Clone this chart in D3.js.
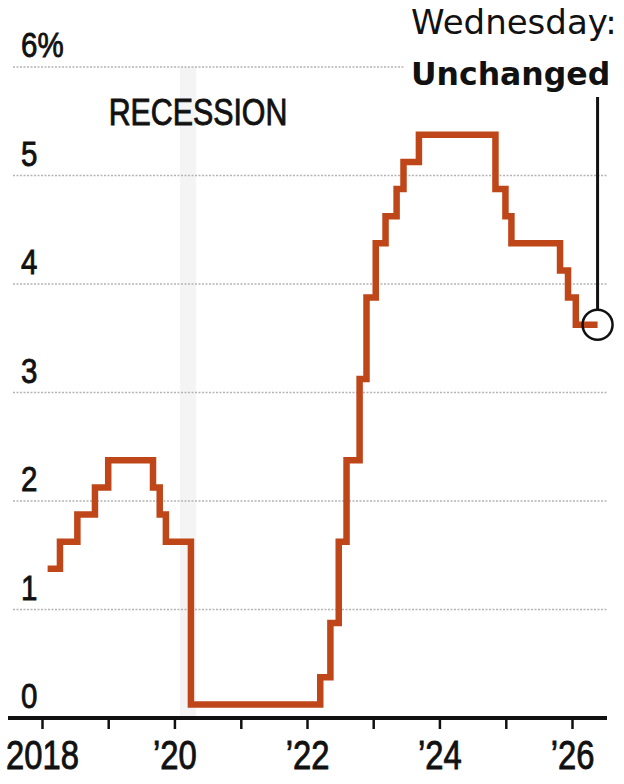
<!DOCTYPE html>
<html>
<head>
<meta charset="utf-8">
<script src="https://cdn.jsdelivr.net/npm/d3@7"></script>
<style>
    body { margin: 0; background: #fff; }
    svg text { font-family: "Liberation Sans", Arial, sans-serif; fill: #111; }
    .note { font-family: "DejaVu Sans", sans-serif !important; }
    .heavy { stroke: #111; stroke-width: 0.9px; }
</style>
</head>
<body>
<div id="container"></div>
<script>
// date each level starts, and the rate (midpoint of target range, %)
const stepDates = [
    "2018-02-01", "2018-04-10", "2018-07-15", "2018-10-20", "2019-01-01",
    "2019-09-05", "2019-10-12", "2019-11-15", "2020-04-01",
    "2022-03-15", "2022-05-10", "2022-06-25", "2022-08-07", "2022-10-18",
    "2022-11-25", "2023-01-15", "2023-03-10", "2023-05-10", "2023-06-17",
    "2023-09-10", "2024-11-05", "2024-12-30", "2025-02-01", "2025-10-27",
    "2025-12-10", "2026-01-22"
]
const stepRates = [
    1.375, 1.625, 1.875, 2.125, 2.375,
    2.125, 1.875, 1.625, 0.125,
    0.375, 0.875, 1.625, 2.375, 3.125,
    3.875, 4.375, 4.625, 4.875, 5.125,
    5.375, 4.875, 4.625, 4.375, 4.125,
    3.875, 3.625
]
const endDate = "2026-05-22"

const recession = ["2020-02-01", "2020-04-30"]

const yTicks = [0, 1, 2, 3, 4, 5, 6]
const xTickYears = [2018, 2019, 2020, 2021, 2022, 2023, 2024, 2025, 2026]
const xTickLabels = ["2018", "", "\u201920", "", "\u201922", "", "\u201924", "", "\u201926"]

const noteLines = ["Wednesday:", "Unchanged"]
const recessionLabel = "RECESSION"

let width = 624
let height = 784
let color = "#bf4619"
let narrow = 0.82   // squeeze to look like a condensed face

let parse = d3.timeParse("%Y-%m-%d")

let data = stepDates.map((d, i) => ({date: parse(d), value: stepRates[i]}))
data.push({date: parse(endDate), value: stepRates[stepRates.length - 1]})

let svg = d3.select("#container")
    .append("svg")
    .attr("width", width)
    .attr("height", height)

let x = d3.scaleTime()
    .domain([new Date(2018, 0, 1), new Date(2026, 0, 1)])
    .range([42, 572])

let y = d3.scaleLinear()
    .domain([0, 6])
    .range([718, 67])

// recession band
svg.append("rect")
    .attr("x", x(parse(recession[0])))
    .attr("width", x(parse(recession[1])) - x(parse(recession[0])))
    .attr("y", y(6))
    .attr("height", y(0) - y(6))
    .attr("fill", "#f4f4f4")

// gridlines
svg.append("g")
    .selectAll("line")
    .data(yTicks.filter(d => d > 0))
    .join("line")
        .attr("x1", 13)
        .attr("x2", 608)
        .attr("y1", d => y(d))
        .attr("y2", d => y(d))
        .attr("stroke", "#b4b4b4")
        .attr("stroke-width", 1.5)
        .attr("stroke-dasharray", "2,1.5")

// y labels
svg.append("g")
    .selectAll("text")
    .data(yTicks)
    .join("text")
        .attr("class", "heavy")
        .attr("transform", d => `translate(21,${y(d) - 10}) scale(${narrow},1)`)
        .attr("font-size", 36)
        .text(d => d == 6 ? "6%" : d)

svg.append("text")
    .attr("class", "heavy")
    .attr("transform", `translate(198,125) scale(${narrow},1)`)
    .attr("text-anchor", "middle")
    .attr("font-size", 37)
    .text(recessionLabel)

// x axis
let xAxis = svg.append("g")
    .attr("transform", `translate(0,${y(0)})`)
    .call(d3.axisBottom(x)
        .tickValues(xTickYears.map(d => new Date(d, 0, 1)))
        .tickFormat((d, i) => xTickLabels[i])
        .tickSize(11)
        .tickPadding(12))

xAxis.select(".domain").remove()
xAxis.selectAll(".tick line").attr("stroke", "#111").attr("stroke-width", 2.5)
xAxis.selectAll(".tick text")
    .attr("class", "heavy")
    .attr("font-size", 40)
    .attr("fill", "#111")
    .attr("transform", `scale(${narrow},1)`)
    .style("font-family", '"Liberation Sans", Arial, sans-serif')

svg.append("line")
    .attr("x1", 8)
    .attr("x2", 607)
    .attr("y1", y(0))
    .attr("y2", y(0))
    .attr("stroke", "#111")
    .attr("stroke-width", 4)

// the rate line
let line = d3.line()
    .x(d => x(d.date))
    .y(d => y(d.value))
    .curve(d3.curveStepAfter)

svg.append("path")
    .datum(data)
    .attr("d", line)
    .attr("fill", "none")
    .attr("stroke", color)
    .attr("stroke-width", 6.5)
    .attr("stroke-linejoin", "miter")

// annotation
let last = data[data.length - 1]
let cx = x(last.date)
let cy = y(last.value)
let r = 15

svg.append("rect")
    .attr("x", 404)
    .attr("y", 0)
    .attr("width", 220)
    .attr("height", 92)
    .attr("fill", "#fff")

svg.append("text")
    .attr("class", "note")
    .attr("x", 411)
    .attr("y", 34)
    .attr("font-size", 34)
    .text(noteLines[0])

svg.append("text")
    .attr("class", "note")
    .attr("x", 411)
    .attr("y", 85)
    .attr("font-size", 31.5)
    .attr("font-weight", "bold")
    .text(noteLines[1])

svg.append("line")
    .attr("x1", cx)
    .attr("x2", cx)
    .attr("y1", 97)
    .attr("y2", cy - r)
    .attr("stroke", "#111")
    .attr("stroke-width", 3)

svg.append("circle")
    .attr("cx", cx)
    .attr("cy", cy)
    .attr("r", r)
    .attr("fill", "none")
    .attr("stroke", "#111")
    .attr("stroke-width", 2.5)
</script>
</body>
</html>
